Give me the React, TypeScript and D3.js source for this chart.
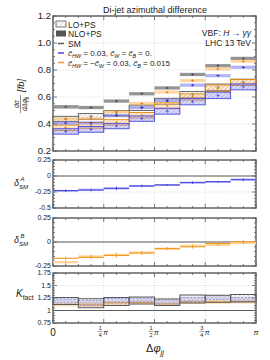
import React from 'react'
import * as d3 from 'd3'

// bin edges in units of pi
const xEdges = [0, 0.125, 0.25, 0.375, 0.5, 0.625, 0.75, 0.875, 1]

// main panel, dsigma/dDphi [fb]
const smNLO = [0.527, 0.522, 0.57, 0.624, 0.667, 0.767, 0.832, 0.886]
const smLO = [0.437, 0.456, 0.48, 0.52, 0.568, 0.617, 0.672, 0.71]
const hwNLO = [0.407, 0.408, 0.462, 0.522, 0.575, 0.688, 0.758, 0.82]
const hwLO = [0.345, 0.36, 0.385, 0.44, 0.495, 0.565, 0.612, 0.675]
const hbNLO = [0.437, 0.44, 0.49, 0.552, 0.636, 0.722, 0.808, 0.865]
const hbLO = [0.372, 0.39, 0.412, 0.465, 0.535, 0.6, 0.665, 0.708]
const nloErr = [0.013, 0.012, 0.012, 0.012, 0.012, 0.012, 0.012, 0.012]
const loErr = [0.02, 0.021, 0.02, 0.02, 0.022, 0.023, 0.024, 0.022]

// ratio panels
const dA_NLO = [-0.23, -0.22, -0.19, -0.155, -0.14, -0.105, -0.09, -0.06]
const dA_LO = [-0.23, -0.21, -0.2, -0.16, -0.14, -0.1, -0.09, -0.05]
const dB_NLO = [-0.17, -0.16, -0.14, -0.115, -0.068, -0.05, -0.015, 0.003]
const dB_LO = [-0.21, -0.15, -0.135, -0.11, -0.07, -0.04, -0.03, -0.01]
const dErr = [0.02, 0.02, 0.025, 0.02, 0.015, 0.02, 0.015, 0.02]

// K factor
const kSM = [1.19, 1.145, 1.18, 1.2, 1.165, 1.23, 1.235, 1.245]
const kSMErr = [0.07, 0.09, 0.08, 0.07, 0.065, 0.08, 0.07, 0.075]
const kHW = [1.19, 1.15, 1.2, 1.21, 1.17, 1.22, 1.26, 1.22]
const kHB = [1.12, 1.12, 1.15, 1.16, 1.13, 1.17, 1.17, 1.18]
const kErr = [0.04, 0.05, 0.04, 0.04, 0.04, 0.04, 0.04, 0.04]

const mainTicks = [0.2, 0.4, 0.6, 0.8, 1.0, 1.2]
const mainLabels = ['0.2', '0.4', '0.6', '0.8', '1.0', '1.2']
const dATicks = [0.25, 0, -0.25, -0.5]
const dALabels = ['0.25', '0', '-0.25', '-0.5']
const dBTicks = [0.25, 0, -0.25]
const dBLabels = ['0.25', '0', '-0.25']
const kTicks = [1.75, 1.5, 1.25, 1, 0.75]
const kLabels = ['1.75', '1.5', '1.25', '1', '0.75']
const xMajor = [0, 0.25, 0.5, 0.75, 1]
const xFracs = [['1', '4', 0.25], ['1', '2', 0.5], ['3', '4', 0.75]]

const FONT = 'Liberation Sans, Arial, sans-serif'
const GRAY = '#5a5a5a'
const BLUE = '#3535e0'
const ORANGE = '#f5981e'
const PI = '\u03c0'

const x = d3.scaleLinear().domain([0, 1]).range([53, 256])
const yMain = d3.scaleLinear().domain([0.2, 1.2]).range([151, 16])
const yA = d3.scaleLinear().domain([-0.5, 0.25]).range([208, 160])
const yB = d3.scaleLinear().domain([-0.25, 0.25]).range([266, 218])
const yK = d3.scaleLinear().domain([0.75, 1.75]).range([323, 273])

const bins = d3.range(8)

type Seg = { t: string; sub?: boolean; sup?: boolean; it?: boolean }

const Rich = ({ x, y, segs, size, anchor = 'start' }: { x: number; y: number; segs: Seg[]; size: number; anchor?: string }) => {
  let cur = 0
  return (
    <text x={x} y={y} fontSize={size} fontFamily={FONT} textAnchor={anchor} fill="#222">
      {segs.map((s, i) => {
        const target = s.sub ? size * 0.28 : s.sup ? -size * 0.4 : 0
        const dy = target - cur
        cur = target
        return (
          <tspan key={i} dy={dy} fontSize={s.sub || s.sup ? size * 0.68 : size} fontStyle={s.it ? 'italic' : 'normal'}>
            {s.t}
          </tspan>
        )
      })}
    </text>
  )
}

const Panel = ({ y, ticks, labels, fs, minorStep, refLine }: any) => {
  const [d0, d1] = y.domain()
  const [r0, r1] = y.range()
  const minors = d3.range(Math.ceil(d0 / minorStep - 1e-6), Math.floor(d1 / minorStep + 1e-6) + 1).map((k: number) => k * minorStep)
  const xMinor = d3.range(0, 17).map((k: number) => k / 16)
  return (
    <g>
      {ticks.map((t: number) => (
        <line key={'g' + t} x1={x(0)} x2={x(1)} y1={y(t)} y2={y(t)} stroke="#c8c8c8" strokeWidth={0.6} strokeDasharray="1,1.5" />
      ))}
      {xMajor.map(t => (
        <line key={'gx' + t} x1={x(t)} x2={x(t)} y1={r0} y2={r1} stroke="#c8c8c8" strokeWidth={0.6} strokeDasharray="1,1.5" />
      ))}
      {refLine !== undefined && (
        <line x1={x(0)} x2={x(1)} y1={y(refLine)} y2={y(refLine)} stroke="#333" strokeWidth={0.8} />
      )}
      {minors.map((t: number) => {
        const major = ticks.some((m: number) => Math.abs(m - t) < 1e-6)
        const len = major ? 4 : 2
        return (
          <g key={'t' + t}>
            <line x1={x(0)} x2={x(0) + len} y1={y(t)} y2={y(t)} stroke={GRAY} strokeWidth={0.8} />
            <line x1={x(1)} x2={x(1) - len} y1={y(t)} y2={y(t)} stroke={GRAY} strokeWidth={0.8} />
          </g>
        )
      })}
      {xMinor.map((t: number) => {
        const len = xMajor.includes(t) ? 4 : 2
        return (
          <g key={'xt' + t}>
            <line x1={x(t)} x2={x(t)} y1={r0} y2={r0 - len} stroke={GRAY} strokeWidth={0.8} />
            <line x1={x(t)} x2={x(t)} y1={r1} y2={r1 + len} stroke={GRAY} strokeWidth={0.8} />
          </g>
        )
      })}
      <rect x={x(0)} y={r1} width={x(1) - x(0)} height={r0 - r1} fill="none" stroke={GRAY} strokeWidth={1.4} />
      {ticks.map((t: number, i: number) => (
        <text key={'l' + t} x={51} y={y(t)} dy="0.35em" fontSize={fs} fontFamily={FONT} textAnchor="end" fill="#222">
          {labels[i]}
        </text>
      ))}
    </g>
  )
}

const Marker = ({ cx, cy, h, color }: any) => (
  <g stroke={color} strokeWidth={0.8}>
    <line x1={cx} x2={cx} y1={cy - h} y2={cy + h} />
    <line x1={cx - 1.5} x2={cx + 1.5} y1={cy} y2={cy} />
  </g>
)

const App = () => {
  const bx = (i: number) => [x(xEdges[i]), x(xEdges[i + 1])]
  const cx = (i: number) => (x(xEdges[i]) + x(xEdges[i + 1])) / 2

  const loBox = (vals: number[], color: string, pat: string, tint: string, key: string) =>
    bins.map(i => {
      const [a, b] = bx(i)
      const t = yMain(vals[i] + loErr[i])
      const h = yMain(vals[i] - loErr[i]) - t
      return (
        <g key={key + i}>
          <rect x={a} y={t} width={b - a} height={h} fill={tint} />
          <rect x={a} y={t} width={b - a} height={h} fill={`url(#${pat})`} stroke={color} strokeWidth={0.9} />
          <Marker cx={cx(i)} cy={yMain(vals[i])} h={1.5} color={color} />
        </g>
      )
    })

  const nloBand = (vals: number[], fill: string, op: number, mk: string, key: string) =>
    bins.map(i => {
      const [a, b] = bx(i)
      const t = yMain(vals[i] + nloErr[i])
      return (
        <g key={key + i}>
          <rect x={a} y={t} width={b - a} height={yMain(vals[i] - nloErr[i]) - t} fill={fill} opacity={op} />
          <Marker cx={cx(i)} cy={yMain(vals[i])} h={1.2} color={mk} />
        </g>
      )
    })

  const ratio = (y: any, nlo: number[], lo: number[], dark: string, light: string, mid: string, key: string) =>
    bins.map(i => {
      const [a, b] = bx(i)
      const t = y(lo[i] + 0.012)
      return (
        <g key={key + i}>
          <rect x={a} y={t} width={b - a} height={y(lo[i] - 0.012) - t} fill={light} />
          <line x1={a} x2={b} y1={y(nlo[i])} y2={y(nlo[i])} stroke={dark} strokeWidth={1.1} />
          <line x1={cx(i)} x2={cx(i)} y1={y(lo[i] + dErr[i])} y2={y(lo[i] - dErr[i])} stroke={mid} strokeWidth={0.8} />
          <line x1={cx(i)} x2={cx(i)} y1={y(nlo[i] + dErr[i])} y2={y(nlo[i] - dErr[i])} stroke={dark} strokeWidth={0.8} />
        </g>
      )
    })

  return (
    <svg width={270} height={360} style={{ position: 'absolute', left: 0, top: 0, background: '#fff' }}>
      <defs>
        <pattern id="hG" width="3" height="3" patternUnits="userSpaceOnUse" patternTransform="rotate(45)">
          <line x1="0" y1="0" x2="0" y2="3" stroke="#777" strokeWidth="0.6" />
        </pattern>
        <pattern id="hB" width="3" height="3" patternUnits="userSpaceOnUse" patternTransform="rotate(45)">
          <line x1="0" y1="0" x2="0" y2="3" stroke="#6b6bea" strokeWidth="0.6" />
        </pattern>
        <pattern id="hO" width="3" height="3" patternUnits="userSpaceOnUse" patternTransform="rotate(45)">
          <line x1="0" y1="0" x2="0" y2="3" stroke="#f0a040" strokeWidth="0.6" />
        </pattern>
        <pattern id="xG" width="3" height="3" patternUnits="userSpaceOnUse" patternTransform="rotate(45)">
          <line x1="0" y1="0" x2="0" y2="3" stroke="#999" strokeWidth="0.5" />
          <line x1="0" y1="0" x2="3" y2="0" stroke="#999" strokeWidth="0.5" />
        </pattern>
      </defs>

      <text x={155} y={13} fontSize={9} fontFamily={FONT} textAnchor="middle" fill="#222">
        Di-jet azimuthal difference
      </text>

      {/* main panel */}
      <Panel y={yMain} ticks={mainTicks} labels={mainLabels} fs={9.5} minorStep={0.05} />
      {loBox(smLO, GRAY, 'hG', 'none', 'sl')}
      {loBox(hbLO, '#e8880a', 'hO', 'rgba(253,200,140,0.35)', 'ol')}
      {loBox(hwLO, '#4848d8', 'hB', 'rgba(150,150,240,0.35)', 'bl')}
      {nloBand(smNLO, '#8a8a8a', 0.9, '#444', 'sn')}
      {nloBand(hbNLO, '#ffb04a', 0.5, '#e07a00', 'on')}
      {nloBand(hwNLO, '#5c5ce8', 0.45, '#2020c0', 'bn')}

      {/* legend */}
      <rect x={56} y={21} width={10} height={6} fill="url(#hG)" stroke={GRAY} strokeWidth={0.8} />
      <text x={68} y={27.5} fontSize={8.5} fontFamily={FONT} fill="#222">LO+PS</text>
      <rect x={56} y={30.5} width={10} height={6} fill="#555" />
      <text x={68} y={37} fontSize={8.5} fontFamily={FONT} fill="#222">NLO+PS</text>
      <line x1={58} x2={64} y1={43.5} y2={43.5} stroke="#555" strokeWidth={1.4} />
      <text x={68} y={46.5} fontSize={8.5} fontFamily={FONT} fill="#222">SM</text>
      <line x1={58} x2={64} y1={53} y2={53} stroke={BLUE} strokeWidth={1.4} />
      <Rich x={68} y={56} size={8} segs={[
        { t: 'c\u0303', it: true }, { t: 'HW', sub: true, it: true }, { t: ' = 0.03, ' },
        { t: 'c\u0303', it: true }, { t: 'W', sub: true, it: true }, { t: ' = ' },
        { t: 'c\u0303', it: true }, { t: 'B', sub: true, it: true }, { t: ' = 0.' }
      ]} />
      <line x1={58} x2={64} y1={62.5} y2={62.5} stroke={ORANGE} strokeWidth={1.4} />
      <Rich x={68} y={65.5} size={8} segs={[
        { t: 'c\u0303', it: true }, { t: 'HW', sub: true, it: true }, { t: ' = \u2212' },
        { t: 'c\u0303', it: true }, { t: 'W', sub: true, it: true }, { t: ' = 0.03, ' },
        { t: 'c\u0303', it: true }, { t: 'B', sub: true, it: true }, { t: ' = 0.015' }
      ]} />
      <Rich x={251} y={36} size={8.5} anchor="end" segs={[
        { t: 'VBF: ' }, { t: 'H', it: true }, { t: ' \u2192 ' }, { t: '\u03b3\u03b3', it: true }
      ]} />
      <text x={251} y={45.5} fontSize={8.5} fontFamily={FONT} textAnchor="end" fill="#222">LHC 13 TeV</text>

      {/* y label main */}
      <g transform="translate(20,98) rotate(-90)" fontFamily={FONT} fill="#222">
        <text x={-6} y={-1.5} fontSize={7} fontStyle="italic" textAnchor="middle">{'d\u03c3'}</text>
        <line x1={-15} x2={3} y1={0.5} y2={0.5} stroke="#222" strokeWidth={0.5} />
        <Rich x={-6} y={6.5} size={6.5} anchor="middle" segs={[
          { t: 'd\u0394\u03c6', it: true }, { t: 'jj', sub: true, it: true }
        ]} />
        <text x={6} y={3.5} fontSize={9.5} fontStyle="italic">[fb]</text>
      </g>

      {/* delta A */}
      <Panel y={yA} ticks={dATicks} labels={dALabels} fs={7} minorStep={0.05} refLine={0} />
      {ratio(yA, dA_NLO, dA_LO, BLUE, '#b9bcf4', '#8c8cf0', 'ra')}
      <Rich x={14} y={186} size={9} segs={[{ t: '\u03b4', it: true }, { t: 'SM', sub: true, it: true }]} />
      <text x={20.5} y={181} fontSize={6} fontStyle="italic" fontFamily={FONT} fill="#222">A</text>

      {/* delta B */}
      <Panel y={yB} ticks={dBTicks} labels={dBLabels} fs={7} minorStep={0.05} refLine={0} />
      {ratio(yB, dB_NLO, dB_LO, ORANGE, '#fdd6a2', '#f7b35c', 'rb')}
      <Rich x={14} y={243} size={9} segs={[{ t: '\u03b4', it: true }, { t: 'SM', sub: true, it: true }]} />
      <text x={20.5} y={238} fontSize={6} fontStyle="italic" fontFamily={FONT} fill="#222">B</text>

      {/* K factor */}
      <Panel y={yK} ticks={kTicks} labels={kLabels} fs={7} minorStep={0.05} refLine={1} />
      {bins.map(i => {
        const [a, b] = bx(i)
        const tO = yK(kHB[i] + kErr[i])
        const tB = yK(kHW[i] + kErr[i])
        const tS = yK(kSM[i] + kSMErr[i])
        return (
          <g key={'k' + i}>
            <rect x={a} y={tO} width={b - a} height={yK(kHB[i] - kErr[i]) - tO} fill="#fcc98a" opacity={0.6} />
            <line x1={a} x2={b} y1={yK(kHB[i])} y2={yK(kHB[i])} stroke={ORANGE} strokeWidth={0.8} />
            <rect x={a} y={tB} width={b - a} height={yK(kHW[i] - kErr[i]) - tB} fill="rgba(150,150,240,0.3)" stroke="#7474e6" strokeWidth={0.7} strokeDasharray="2,1.5" />
            <rect x={a} y={tS} width={b - a} height={yK(kSM[i] - kSMErr[i]) - tS} fill="url(#xG)" stroke={GRAY} strokeWidth={1} />
          </g>
        )
      })}
      <Rich x={16} y={297} size={10} segs={[{ t: 'K', it: true }, { t: 'fact', sub: true }]} />

      {/* x tick labels */}
      <text x={x(0)} y={336} fontSize={10} fontFamily={FONT} textAnchor="middle" fill="#222">0</text>
      {xFracs.map(([n, d, v]: any) => (
        <g key={'xf' + v} fontFamily={FONT} fill="#222">
          <text x={x(v) - 3.5} y={330} fontSize={5.5} textAnchor="middle">{n}</text>
          <line x1={x(v) - 6} x2={x(v) - 1} y1={331.5} y2={331.5} stroke="#222" strokeWidth={0.4} />
          <text x={x(v) - 3.5} y={336.5} fontSize={5.5} textAnchor="middle">{d}</text>
          <text x={x(v) - 0.5} y={334.5} fontSize={7} fontStyle="italic">{PI}</text>
        </g>
      ))}
      <text x={x(1)} y={334.5} fontSize={7.5} fontStyle="italic" fontFamily={FONT} textAnchor="middle" fill="#222">{PI}</text>
      <Rich x={155} y={352} size={11} anchor="middle" segs={[
        { t: '\u0394' }, { t: '\u03c6', it: true }, { t: 'jj', sub: true, it: true }
      ]} />
    </svg>
  )
}

export default App
